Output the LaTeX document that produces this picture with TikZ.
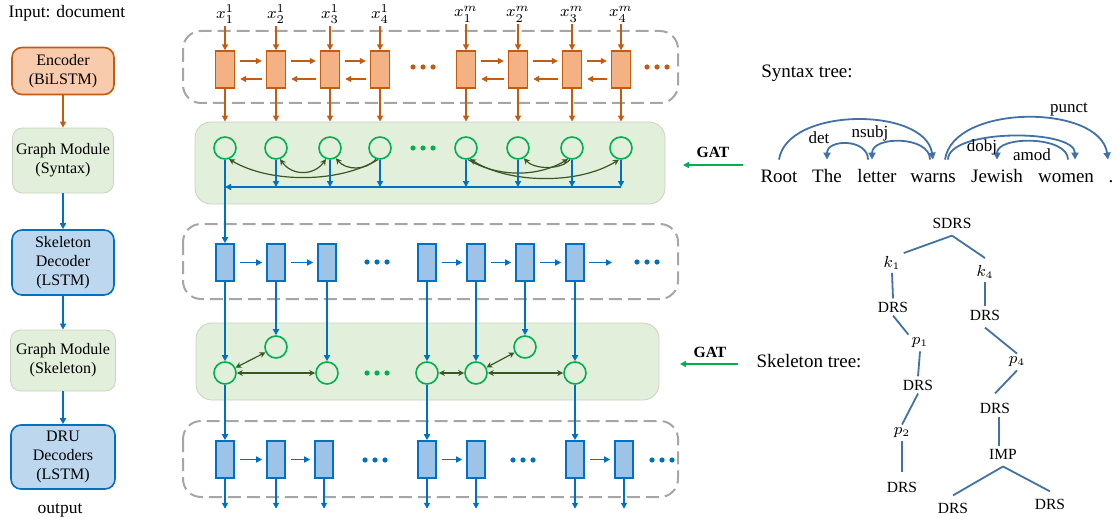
\documentclass[tikz,border=0pt]{standalone}
\usepackage{fontspec}
\setmainfont{Liberation Serif}
\usetikzlibrary{arrows.meta}

\definecolor{encline}{RGB}{197,90,17}
\definecolor{encfill}{RGB}{244,177,131}
\definecolor{encbox}{RGB}{248,203,173}
\definecolor{decline}{RGB}{0,112,192}
\definecolor{decfill}{RGB}{157,195,230}
\definecolor{decbox}{RGB}{189,215,238}
\definecolor{gatgreen}{RGB}{0,176,80}
\definecolor{edgegreen}{RGB}{56,87,35}
\definecolor{graphbg}{RGB}{226,239,218}
\definecolor{graphrim}{RGB}{200,212,192}
\definecolor{dashgray}{RGB}{166,166,166}
\definecolor{treeblue}{RGB}{65,113,165}

\tikzset{
  module/.style={rounded corners=5pt, align=center, line width=0.8pt, inner sep=0pt,
    font=\fontsize{8}{9.5}\selectfont},
  encmod/.style={module, draw=encline, fill=encbox},
  graphmod/.style={module, draw=graphrim, fill=graphbg, line width=0.4pt},
  decmod/.style={module, draw=decline, fill=decbox},
  rowframe/.style={draw=dashgray, line width=1pt, dash pattern=on 6.5pt off 3pt, rounded corners=9pt},
  panel/.style={draw=graphrim, fill=graphbg, line width=0.4pt, rounded corners=8pt, inner sep=0pt},
  enccell/.style={draw=encline, fill=encfill, line width=0.7pt, minimum width=9.5pt, minimum height=18.5pt, inner sep=0pt},
  deccell/.style={draw=decline, fill=decfill, line width=0.8pt, minimum width=9pt, minimum height=18.5pt, inner sep=0pt},
  gnode/.style={circle, draw=gatgreen, line width=0.8pt, minimum size=11pt, inner sep=0pt},
  encarrow/.style={-{Triangle[width=3pt,length=3pt]}, encline, line width=0.7pt},
  decarrow/.style={-{Triangle[width=3pt,length=3pt]}, decline, line width=0.8pt},
  gedge/.style={-{Stealth[width=3pt,length=3pt]}, edgegreen, line width=0.6pt},
  gedges/.style={{Stealth[width=3pt,length=3pt]}-{Stealth[width=3pt,length=3pt]}, edgegreen, line width=0.6pt},
  gatarrow/.style={-{Triangle[width=3pt,length=3pt]}, gatgreen, line width=0.8pt},
  synarc/.style={-{Triangle[width=3.5pt,length=3.5pt]}, treeblue, line width=0.9pt},
  treeline/.style={treeblue, line width=0.9pt},
  word/.style={font=\fontsize{9.5}{11}\selectfont, text height=7pt, text depth=2pt, inner ysep=4pt, inner xsep=1pt},
  arclabel/.style={font=\fontsize{8.5}{10}\selectfont, inner sep=0pt},
  tnode/.style={font=\fontsize{7.75}{9}\selectfont, inner sep=1.5pt},
  caption/.style={font=\fontsize{8.75}{10}\selectfont, inner sep=0pt},
}

\begin{document}
\begin{tikzpicture}[x=0.5pt, y=-0.5pt]
  \useasboundingbox (0,0) rectangle (1118,524);

  % Left column: the pipeline
  \node[caption] (input) at (67,13) {Input: document};
  \node[encmod, minimum width=51pt, minimum height=23.5pt] (enc) at (63,71) {Encoder\\(BiLSTM)};
  \node[graphmod, minimum width=50.5pt, minimum height=32.5pt] (gsyn) at (63,160.5) {Graph Module\\(Syntax)};
  \node[decmod, minimum width=51pt, minimum height=32.5pt] (skel) at (63,262.5) {Skeleton\\Decoder\\(LSTM)};
  \node[graphmod, minimum width=52.5pt, minimum height=30.5pt] (gskel) at (63,360.5) {Graph Module\\(Skeleton)};
  \node[decmod, minimum width=52pt, minimum height=32pt] (dru) at (63,457) {DRU\\Decoders\\(LSTM)};
  \node[caption] (output) at (60,510) {output};
  \draw[encarrow] (enc) -- (gsyn);
  \draw[decarrow] (gsyn) -- (skel);
  \draw[decarrow] (skel) -- (gskel);
  \draw[decarrow] (gskel) -- (dru);

  % Frames and panels
  \draw[rowframe] (183,31) rectangle (678,103);
  \draw[rowframe] (183,224) rectangle (678,299);
  \draw[rowframe] (183,421) rectangle (678,497);
  \node[panel, minimum width=235pt, minimum height=41pt] (synpanel) at (430,163) {};
  \node[panel, minimum width=231.5pt, minimum height=38.5pt] (skelpanel) at (427.5,361.5) {};

  % Encoder row and syntax graph
  \foreach \i/\x/\lab in {1/225/{x_1^1},2/276/{x_2^1},3/330/{x_3^1},4/380/{x_4^1},
                          5/466/{x_1^m},6/518/{x_2^m},7/572/{x_3^m},8/621/{x_4^m}}{
    \node[enccell] (e\i) at (\x,69.5) {};
    \node[font=\fontsize{8}{9}\selectfont, inner sep=1pt] (x\i) at (\x,14) {$\lab$};
    \draw[encarrow] (x\i.south) -- (e\i.north);
    \draw[encarrow] (e\i.south) -- (e\i.south |- synpanel.north);
    \node[gnode] (g\i) at (\x,148) {};
  }
  \foreach \a/\b in {1/2,2/3,3/4,5/6,6/7,7/8}{
    \draw[encarrow, shorten <=2.5pt, shorten >=2pt] ([yshift=4.25pt]e\a.east) -- ([yshift=4.25pt]e\b.west);
    \draw[encarrow, shorten <=2pt, shorten >=2.5pt] ([yshift=-4.75pt]e\b.west) -- ([yshift=-4.75pt]e\a.east);
  }
  \foreach \x in {413,423,433} \fill[encline] (\x,67) circle (1.3pt);
  \foreach \x in {647,657,667} \fill[encline] (\x,67) circle (1.3pt);
  \foreach \x in {413,423,433} \fill[gatgreen] (\x,148) circle (1.3pt);

  % dependency edges
  \draw[gedge] (g4.-100) .. controls +(-40,24) and +(40,24) .. (g1.-70);
  \draw[gedges] (g3.-110) .. controls +(-12,17) and +(12,17) .. (g2.-70);
  \draw[gedge] (g4.-110) .. controls +(-10,12) and +(10,12) .. (g3.-60);
  \draw[gedges] (g8.-100) .. controls +(-40,25) and +(40,25) .. (g5.-70);
  \draw[gedge] (g5.-80) .. controls +(30,18) and +(-30,18) .. (g7.-110);
  \draw[gedge] (g7.-100) .. controls +(-10,11) and +(10,11) .. (g6.-60);

  % collect into the first decoder step
  \coordinate (busR) at (621,187);
  \foreach \i in {2,...,8} \draw[decarrow] (g\i.south) -- (g\i.south |- busR);
  \draw[decarrow] (busR) -- (g1.south |- busR);

  % Skeleton decoder row
  \foreach \i/\x in {1/225,2/276,3/327,4/427,5/476,6/525,7/575}
    \node[deccell] (s\i) at (\x,262.5) {};
  \coordinate (sEnd) at (612,262.5);
  \foreach \a/\b in {1/2,2/3,4/5,5/6,6/7}
    \draw[decarrow, shorten <=2.5pt, shorten >=2pt] (s\a.east) -- (s\b.west);
  \draw[decarrow, shorten <=2pt] (s7.east) -- (sEnd);
  \foreach \x in {367,377,387} \fill[decline] (\x,262) circle (1.3pt);
  \foreach \x in {637,647,657} \fill[decline] (\x,262) circle (1.3pt);
  \draw[decarrow] (g1.south) -- (s1.north);

  % Skeleton graph
  \foreach \i/\x/\y in {1/225/373,2/276/347,3/327/373,4/427/373,5/476/373,6/525/347,7/575/373}{
    \node[gnode] (c\i) at (\x,\y) {};
    \draw[decarrow] (s\i.south) -- (c\i.north);
  }
  \foreach \x in {367,377,387} \fill[gatgreen] (\x,373) circle (1.3pt);
  \draw[gedges] (c1) -- (c2);
  \draw[gedges] (c1) -- (c3);
  \draw[gedges] (c4) -- (c5);
  \draw[gedges] (c5) -- (c6);
  \draw[gedges] (c5) -- (c7);

  % DRU decoder row
  \foreach \i/\x in {1/225,2/276,3/324,4/427,5/476,6/575,7/624}{
    \node[deccell] (d\i) at (\x,459.5) {};
    \draw[decarrow] (d\i.south) -- ++(0,30);
  }
  \foreach \a/\b in {1/2,2/3,4/5,6/7}
    \draw[decarrow, shorten <=2.5pt, shorten >=2pt] (d\a.east) -- (d\b.west);
  \foreach \x in {365,375,385} \fill[decline] (\x,460) circle (1.3pt);
  \foreach \x in {513,523,533} \fill[decline] (\x,460) circle (1.3pt);
  \foreach \x in {652,662,672} \fill[decline] (\x,460) circle (1.3pt);
  \draw[decarrow] (c1.south) -- (d1.north);
  \draw[decarrow] (c4.south) -- (d4.north);
  \draw[decarrow] (c7.south) -- (d6.north);

  % GAT inputs
  \node[font=\fontsize{7.8}{9}\selectfont\bfseries, inner sep=0pt] (gat1) at (713,152) {GAT};
  \coordinate (gat1s) at (743,165);
  \coordinate (gat1e) at (683,165);
  \draw[gatarrow] (gat1s) -- (gat1e);
  \node[font=\fontsize{7.8}{9}\selectfont\bfseries, inner sep=0pt] (gat2) at (710,352) {GAT};
  \coordinate (gat2s) at (738,364);
  \coordinate (gat2e) at (680,364);
  \draw[gatarrow] (gat2s) -- (gat2e);

  % Syntax tree
  \node[word, inner sep=0pt] (syntitle) at (807,73) {Syntax tree:};
  \foreach \nm/\x/\txt in {root/779/Root,the/827/The,letter/877/letter,warns/933/warns,
                           jewish/997/Jewish,women/1066/women,stop/1111/.}
    \node[word, anchor=base] (\nm) at (\x,182) {\txt};
  \draw[synarc] (root.north) .. controls +(8,-53) and +(-8,-53) .. (warns.north);
  \draw[synarc] ([xshift=-4.5pt]letter.north) .. controls +(0,-21) and +(0,-21) .. (the.north);
  \draw[synarc] ([xshift=-1.5pt]warns.north) .. controls +(0,-24) and +(0,-24) .. ([xshift=-2.5pt]letter.north);
  \draw[synarc] ([xshift=7.5pt]warns.north) .. controls +(0,-31) and +(0,-31) .. ([xshift=4.5pt]women.north);
  \draw[synarc] ([xshift=1pt]women.north) .. controls +(0,-24) and +(0,-24) .. (jewish.north);
  \draw[synarc] ([xshift=6pt]warns.north) .. controls +(8,-56) and +(-8,-56) .. ([xshift=-1.5pt]stop.north);
  \node[arclabel] (ldet) at (819,138) {det};
  \node[arclabel] (lnsubj) at (870,133) {nsubj};
  \node[arclabel] (ldobj) at (982,147) {dobj};
  \node[arclabel] (lamod) at (1032,155) {amod};
  \node[arclabel] (lpunct) at (1069,110) {punct};

  % Skeleton tree
  \node[word, inner sep=0pt] (skeltitle) at (809,362) {Skeleton tree:};
  \node[tnode] (sdrs) at (952,223) {SDRS};
  \node[tnode] (k1) at (892,263) {$k_1$};
  \node[tnode] (k4) at (985,272) {$k_4$};
  \node[tnode] (drsA) at (893,307) {DRS};
  \node[tnode] (drsB) at (985,315) {DRS};
  \node[tnode] (p1) at (920,343) {$p_1$};
  \node[tnode] (p4) at (1017,362) {$p_4$};
  \node[tnode] (drsC) at (918,385) {DRS};
  \node[tnode] (drsD) at (995,408) {DRS};
  \node[tnode] (p2) at (902,433) {$p_2$};
  \node[tnode] (imp) at (1003,454) {IMP};
  \node[tnode] (drsE) at (902,487) {DRS};
  \node[tnode] (drsF) at (953,508) {DRS};
  \node[tnode] (drsG) at (1050,504) {DRS};
  \draw[treeline] ([yshift=-2pt]sdrs.south) -- (k1.north east);
  \draw[treeline] ([yshift=-2pt]sdrs.south) -- ([yshift=2pt]k4.north);
  \draw[treeline] (k1.south) -- (drsA.north);
  \draw[treeline] (k4.south) -- (drsB.north);
  \draw[treeline] (drsA.south) -- (p1.north west);
  \draw[treeline] ([yshift=-2pt]drsB.south) -- (p4.north);
  \draw[treeline] (p1.south) -- (drsC.north);
  \draw[treeline] (p4.south) -- ([yshift=3pt]drsD.north);
  \draw[treeline] (drsC.south) -- (p2.north);
  \draw[treeline] ([xshift=2pt]drsD.south) -- ([xshift=-2pt]imp.north);
  \draw[treeline] (p2.south) -- ([yshift=3pt]drsE.north);
  \draw[treeline] ([yshift=-2pt]imp.south) -- ([yshift=2pt]drsF.north);
  \draw[treeline] ([yshift=-2pt]imp.south) -- ([yshift=2pt]drsG.north);
\end{tikzpicture}
\end{document}
